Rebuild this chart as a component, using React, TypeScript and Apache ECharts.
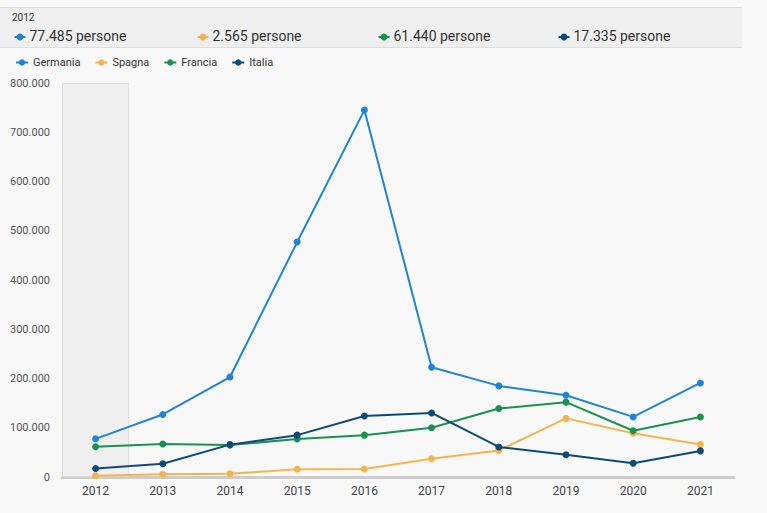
import React, { useEffect, useRef } from "react";
import * as echarts from "echarts";

const years = ["2012", "2013", "2014", "2015", "2016", "2017", "2018", "2019", "2020", "2021"];
const germania = [77485, 127000, 203000, 477000, 745000, 223000, 185000, 166000, 122000, 191000];
const spagna = [2565, 5500, 6700, 15600, 16300, 37000, 54000, 119000, 89000, 66000];
const francia = [61440, 67000, 65000, 77000, 85000, 100000, 139000, 152000, 94000, 122000];
const italia = [17335, 27000, 65700, 85000, 124000, 130000, 61000, 45000, 28000, 53000];
const yTicks = [0, 100000, 200000, 300000, 400000, 500000, 600000, 700000, 800000];

const seriesDefs = [
  { name: "Germania", color: "#1f84d8", data: germania },
  { name: "Spagna", color: "#f5b44b", data: spagna },
  { name: "Francia", color: "#17924f", data: francia },
  { name: "Italia", color: "#0c4a7c", data: italia },
];

const selectedIndex = 0;
const yMax = yTicks[yTicks.length - 1];

const fmt = (v: number) => Math.round(v).toString().replace(/\B(?=(\d{3})+(?!\d))/g, ".");
const FONT = "Roboto, 'Noto Sans', sans-serif";

export default function App() {
  const ref = useRef<HTMLDivElement>(null);
  useEffect(() => {
    if (!ref.current) return;
    const chart = echarts.init(ref.current, undefined, { renderer: "svg" });

    const headerX = [12, 195, 376, 556];
    const headerItems = seriesDefs.map((s, i) => ({
      type: "group",
      left: headerX[i],
      top: 29,
      children: [
        { type: "line", shape: { x1: 0, y1: 8, x2: 11, y2: 8 }, style: { stroke: s.color, lineWidth: 2 } },
        { type: "circle", shape: { cx: 5.5, cy: 8, r: 3.5 }, style: { fill: s.color } },
        {
          type: "text",
          x: 15,
          y: 0,
          style: { text: fmt(s.data[selectedIndex]) + " persone", fill: "#333", font: `14px ${FONT}` },
        },
      ],
    }));

    chart.setOption({
      animation: false,
      backgroundColor: "#f8f8f8",
      graphic: [
        {
          type: "rect",
          left: 0,
          top: 7,
          shape: { width: 742, height: 40 },
          style: { fill: "#efefef" },
          z: -1,
        },
        { type: "line", shape: { x1: 0, y1: 7.5, x2: 742, y2: 7.5 }, style: { stroke: "#dedede", lineWidth: 1 } },
        { type: "line", shape: { x1: 0, y1: 47.5, x2: 742, y2: 47.5 }, style: { stroke: "#dedede", lineWidth: 1 } },
        {
          type: "text",
          left: 12,
          top: 12,
          style: { text: years[selectedIndex], fill: "#333", font: `10px ${FONT}` },
        },
        ...headerItems,
      ],
      legend: {
        data: seriesDefs.map((s) => s.name),
        left: 10,
        top: 52,
        itemWidth: 12,
        itemHeight: 8,
        itemGap: 14,
        textStyle: { color: "#333", fontSize: 11, fontFamily: FONT },
      },
      grid: { left: 62, right: 33, top: 83, bottom: 36 },
      xAxis: {
        type: "category",
        data: years,
        boundaryGap: true,
        axisLine: { lineStyle: { color: "#cccccc", width: 3 } },
        axisTick: { show: false },
        axisLabel: { color: "#444", fontSize: 12, fontFamily: FONT, margin: 8 },
      },
      yAxis: {
        type: "value",
        min: 0,
        max: yMax,
        interval: 100000,
        splitLine: { show: false },
        axisLine: { show: false },
        axisTick: { show: false },
        axisLabel: { color: "#555", fontSize: 11, fontFamily: FONT, margin: 12, formatter: (v: number) => fmt(v) },
      },
      series: [
        {
          name: "selezione",
          type: "bar",
          data: years.map((_, i) => (i === selectedIndex ? yMax : null)),
          barWidth: "100%",
          itemStyle: { color: "#efefef", borderColor: "#dcdcdc", borderWidth: 1 },
          silent: true,
          z: 0,
        },
        ...seriesDefs.map((s) => ({
          name: s.name,
          type: "line",
          data: s.data,
          color: s.color,
          symbol: "circle",
          symbolSize: 7,
          lineStyle: { width: 2, color: s.color },
          itemStyle: { color: s.color },
          z: 3,
        })),
      ],
    });
    return () => chart.dispose();
  }, []);
  return <div ref={ref} style={{ position: "absolute", left: 0, top: 0, width: 767, height: 513 }} />;
}
